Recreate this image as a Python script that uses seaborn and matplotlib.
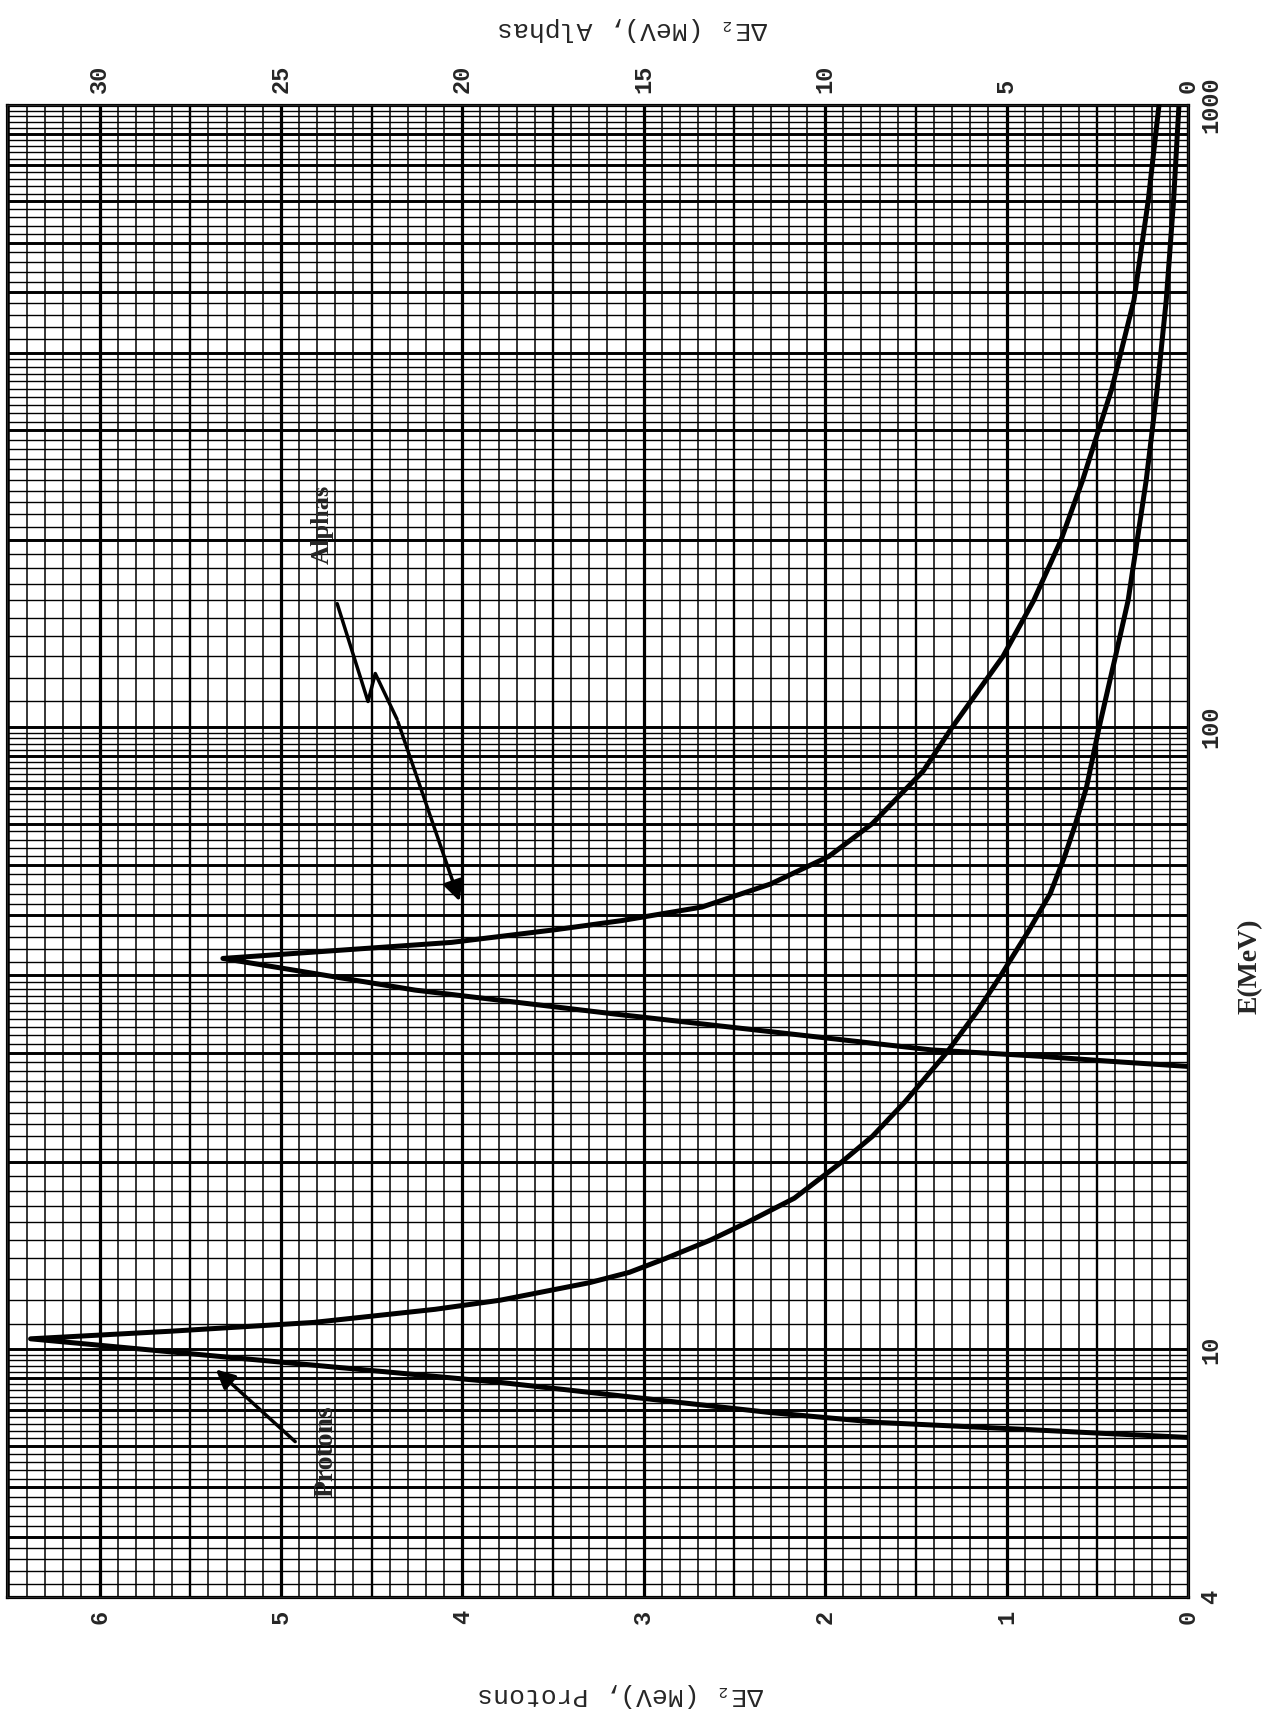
import matplotlib
matplotlib.use("Agg")
import matplotlib.pyplot as plt
import seaborn as sns
import numpy as np

# energy E (MeV) and energy loss dE2 (MeV)
protons_E = [7.22, 7.33, 7.46, 7.63, 7.92, 8.85, 9.6, 10.4, 10.7, 11.05, 11.6, 12.0,
             12.8, 13.3, 14.0, 15.0, 16.0, 17.5, 20.0, 22.0, 25.0, 30.0, 35.0, 40.0,
             47.0, 54.0, 62.0, 70.0, 80.0, 100.0, 130.0, 160.0, 250.0, 350.0, 486.0,
             700.0, 1000.0]
protons_dE = [0.0, 0.47, 0.99, 1.70, 2.31, 3.79, 5.10, 6.38, 5.60, 4.82, 4.15, 3.79,
              3.30, 3.08, 2.88, 2.63, 2.43, 2.17, 1.91, 1.74, 1.56, 1.33, 1.16, 1.03,
              0.88, 0.76, 0.68, 0.62, 0.56, 0.49, 0.40, 0.33, 0.23, 0.17, 0.12,
              0.08, 0.05]

alphas_E = [28.5, 29.0, 29.6, 30.3, 31.5, 34.6, 37.8, 42.5, 43.8, 45.1, 47.3, 48.9,
            51.4, 56.0, 62.0, 70.0, 85.0, 100.0, 130.0, 160.0, 200.0, 250.0, 350.0,
            486.0, 700.0, 1000.0]
alphas_dE = [0.0, 1.97, 4.12, 7.08, 9.63, 15.8, 21.3, 26.6, 23.4, 20.3, 17.4, 15.6,
             13.4, 11.5, 9.9, 8.7, 7.3, 6.5, 5.1, 4.25, 3.5, 2.9, 2.1,
             1.49, 1.1, 0.8]

proton_ticks = [0, 1, 2, 3, 4, 5, 6]
alpha_ticks = [0, 5, 10, 15, 20, 25, 30]
energy_ticks = [4, 10, 100, 1000]

sns.set_style("white")
mono = ["Liberation Mono", "DejaVu Sans Mono"]
serif = ["Liberation Serif", "DejaVu Serif"]

fig = plt.figure(figsize=(12.69, 17.25), dpi=100)
ax = fig.add_axes([0.0055, 0.0742, 0.9307, 0.8649])
ax.set_yscale("log")
ax.set_xlim(6.51, 0)
ax.set_ylim(4, 1000)

# graph paper: linear dE lines
for v in np.arange(0, 6.51, 0.1):
    ax.axvline(v, color="black", lw=1.1, zorder=0)
for v in np.arange(0.5, 6.5, 1.0):
    ax.axvline(v, color="black", lw=1.7, zorder=0)
for v in np.arange(0, 7, 1.0):
    ax.axvline(v, color="black", lw=2.3, zorder=0)

# graph paper: log E lines, denser in the upper part of each decade
fine_E = np.concatenate([np.arange(4, 10, 0.2),
                         np.arange(10, 40, 1.0), np.arange(40, 100, 2.0),
                         np.arange(100, 400, 10.0), np.arange(400, 1000, 20.0)])
for v in fine_E:
    ax.axhline(v, color="black", lw=1.0, zorder=0)
major_E = [m * b for b in [1, 10, 100] for m in range(1, 10) if 4 <= m * b <= 1000] + [1000]
for v in major_E:
    ax.axhline(v, color="black", lw=2.1, zorder=0)

sns.lineplot(x=protons_dE, y=protons_E, sort=False, estimator=None,
             color="black", lw=3.6, ax=ax, zorder=3)

ax.set_xticks(proton_ticks)
ax.set_xticklabels([str(t) for t in proton_ticks], rotation=90, family=mono,
                   fontsize=17, fontweight="bold")
ax.yaxis.tick_right()
ax.set_yticks(energy_ticks)
ax.set_yticklabels([str(t) for t in energy_ticks], rotation=90, va="center",
                   family=mono, fontsize=17, fontweight="bold")
ax.yaxis.set_minor_locator(matplotlib.ticker.NullLocator())
ax.tick_params(axis="x", length=0, pad=9)
ax.tick_params(axis="y", length=0, pad=8)
for s in ax.spines.values():
    s.set_linewidth(2.3)
    s.set_color("black")

# alpha scale on the top axis
ax2 = ax.twiny()
ax2.set_xlim(6.51 * 5, 0)
sns.lineplot(x=alphas_dE, y=alphas_E, sort=False, estimator=None,
             color="black", lw=3.6, ax=ax2, zorder=3)
ax2.set_xticks(alpha_ticks)
ax2.set_xticklabels([str(t) for t in alpha_ticks], rotation=90, family=mono,
                    fontsize=17, fontweight="bold")
ax2.tick_params(axis="x", length=0, pad=9)
ax2.set_ylim(4, 1000)

# curve labels with arrows
ax.text(4.75, 6.85, "Protons", rotation=90, ha="center", va="center",
        family=serif, fontweight="bold", fontsize=20)
ax.annotate("", xy=(5.37, 9.35), xytext=(4.91, 7.06),
            arrowprops=dict(arrowstyle="-|>", lw=2.5, color="black", mutation_scale=28))
ax.text(4.77, 212, "Alphas", rotation=90, ha="center", va="center",
        family=serif, fontweight="bold", fontsize=19)
bolt_x = [4.69, 4.52, 4.48, 4.36]
bolt_y = [158, 110, 122, 103]
ax.plot(bolt_x, bolt_y, color="black", lw=2.5)
ax.annotate("", xy=(4.01, 52), xytext=(4.36, 103),
            arrowprops=dict(arrowstyle="-|>", lw=2.5, color="black", mutation_scale=30))

fig.text(0.489, 0.0174, "ΔE₂ (MeV), Protons", rotation=180, ha="center", va="center",
         family=mono, fontsize=19)
fig.text(0.498, 0.983, "ΔE₂ (MeV), Alphas", rotation=180, ha="center", va="center",
         family=mono, fontsize=19)
fig.text(0.985, 0.44, "E(MeV)", rotation=90, ha="center", va="center",
         family=serif, fontweight="bold", fontsize=20)

fig.savefig("out.png", dpi=100, facecolor="white")
